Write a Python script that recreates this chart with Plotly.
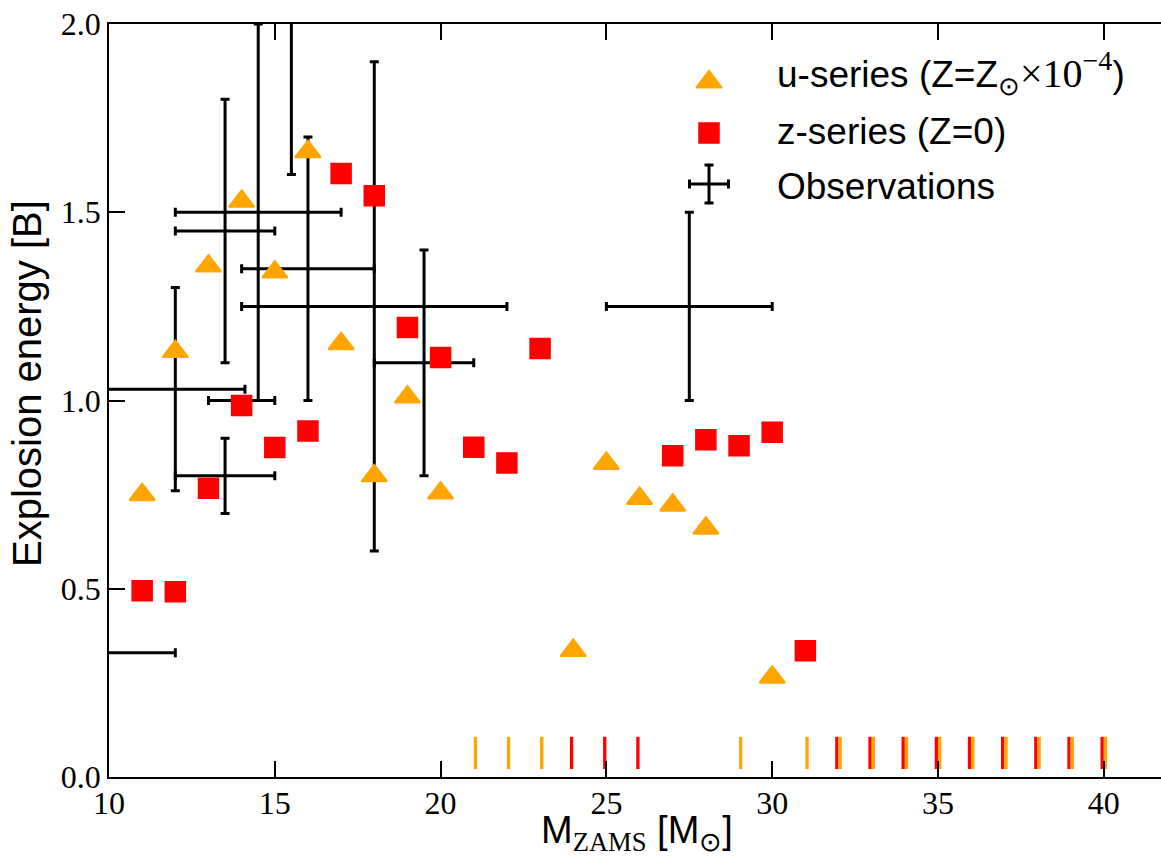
import plotly.graph_objects as go

# ---------------- data ----------------
u_mass = [11, 12, 13, 14, 15, 16, 17, 18, 19, 20, 24, 25, 26, 27, 28, 30]
u_energy = [0.75, 1.13, 1.357, 1.529, 1.341, 1.661, 1.151, 0.80, 1.009, 0.754,
            0.336, 0.833, 0.740, 0.722, 0.661, 0.265]

z_mass = [11, 12, 13, 14, 15, 16, 17, 18, 19, 20, 21, 22, 23, 27, 28, 29, 30, 31]
z_energy = [0.495, 0.492, 0.767, 0.987, 0.875, 0.919, 1.603, 1.544, 1.194, 1.114,
            0.876, 0.834, 1.138, 0.853, 0.896, 0.880, 0.916, 0.335]

# non-exploding models
u_fail_mass = [21, 22, 23, 29, 31, 32, 33, 34, 35, 36, 37, 38, 39, 40]
z_fail_mass = [24, 25, 26, 32, 33, 34, 35, 36, 37, 38, 39, 40]
fail_level = 0.064

# observations
obs_mass = [9, 12, 13.5, 13.5, 14.5, 14, 15.5, 16, 18, 19.5, 27.5]
obs_mass_err = [3, 2.1, 1.5, 1.5, 2.5, 1, 0, 2, 4, 1.5, 2.5]
obs_energy = [0.33, 1.03, 0.80, 1.45, 1.50, 1.00, 2.30, 1.35, 1.25, 1.10, 1.25]
obs_energy_err = [0, 0.27, 0.10, 0.35, 0.50, 0, 0.70, 0.35, 0.65, 0.30, 0.25]

x_ticks = [10, 15, 20, 25, 30, 35, 40]
y_ticks = [0.0, 0.5, 1.0, 1.5, 2.0]
y_tick_text = ["0.0", "0.5", "1.0", "1.5", "2.0"]

ORANGE = "#FFA500"
RED = "#FF0000"
SERIF = "Liberation Serif"
SANS = "Liberation Sans"

fig = go.Figure()

# failed explosions (vertical ticks)
fig.add_trace(go.Scatter(
    x=[m - 0.05 for m in z_fail_mass], y=[fail_level] * len(z_fail_mass),
    mode="markers", showlegend=False, hoverinfo="skip",
    marker=dict(symbol="line-ns", size=23, line=dict(color=RED, width=3.3))))
fig.add_trace(go.Scatter(
    x=[m + 0.05 for m in u_fail_mass], y=[fail_level] * len(u_fail_mass),
    mode="markers", showlegend=False, hoverinfo="skip",
    marker=dict(symbol="line-ns", size=23, line=dict(color=ORANGE, width=3.3))))

# observations
fig.add_trace(go.Scatter(
    x=obs_mass, y=obs_energy, mode="markers", showlegend=False,
    marker=dict(size=2, opacity=0, color="black"),
    error_x=dict(type="data", array=obs_mass_err, color="black", thickness=3, width=4.5),
    error_y=dict(type="data", array=obs_energy_err, color="black", thickness=3, width=4.5)))

# u-series
fig.add_trace(go.Scatter(
    x=u_mass, y=u_energy, mode="markers", showlegend=False,
    marker=dict(symbol="triangle-up", size=22, color=ORANGE,
                line=dict(color=ORANGE, width=2))))

# z-series
fig.add_trace(go.Scatter(
    x=z_mass, y=z_energy, mode="markers", showlegend=False,
    marker=dict(symbol="square", size=20, color=RED,
                line=dict(color=RED, width=1.5))))

# ---- custom legend glyphs on an overlay (unit) axis ----
W, H = 1052.0, 753.0
def px2x(px):
    return (px - 109) / W
def py2y(py):
    return 1 - (py - 24) / H

fig.add_trace(go.Scatter(
    x=[px2x(709)], y=[py2y(82)], xaxis="x2", yaxis="y2", mode="markers",
    showlegend=False, hoverinfo="skip",
    marker=dict(symbol="triangle-up", size=22, color=ORANGE, line=dict(color=ORANGE, width=2))))
fig.add_trace(go.Scatter(
    x=[px2x(709)], y=[py2y(133)], xaxis="x2", yaxis="y2", mode="markers",
    showlegend=False, hoverinfo="skip",
    marker=dict(symbol="square", size=20, color=RED, line=dict(color=RED, width=1.5))))
fig.add_trace(go.Scatter(
    x=[px2x(709)], y=[py2y(184)], xaxis="x2", yaxis="y2", mode="markers",
    showlegend=False, hoverinfo="skip",
    marker=dict(size=2, opacity=0),
    error_x=dict(type="constant", value=19.5 / W, color="black", thickness=3, width=4.5),
    error_y=dict(type="constant", value=19 / H, color="black", thickness=3, width=4.5)))

legend_font = dict(family=SANS, size=37, color="black")
legend_items = [
    ("u-series (Z=Z<sub>⊙</sub><span style='font-family:Liberation Serif;font-size:40px'>×10<sup>−4</sup></span>)", 73),
    ("z-series (Z=0)", 131),
    ("Observations", 186),
]
annotations = []
for txt, py in legend_items:
    annotations.append(dict(text=txt, x=px2x(775), y=py2y(py), xref="paper", yref="paper",
                            xanchor="left", yanchor="middle", showarrow=False, font=legend_font))

annotations.append(dict(text="Explosion energy [B]", x=px2x(27), y=py2y(384),
                        xref="paper", yref="paper", textangle=-90, showarrow=False,
                        xanchor="center", yanchor="middle",
                        font=dict(family=SANS, size=40, color="black")))
annotations.append(dict(text="M<sub><span style='font-family:Liberation Serif'>ZAMS</span></sub> [M<sub>⊙</sub>]",
                        x=px2x(637), y=py2y(833), xref="paper", yref="paper",
                        showarrow=False, xanchor="center", yanchor="middle",
                        font=dict(family=SANS, size=38, color="black")))

fig.update_layout(
    width=1161, height=857,
    margin=dict(l=109, r=0, t=24, b=80),
    paper_bgcolor="white", plot_bgcolor="white",
    showlegend=False,
    annotations=annotations,
    xaxis=dict(range=[10, 10 + W / 33.16], tickvals=x_ticks, ticktext=[str(t) for t in x_ticks],
               ticks="inside", ticklen=16, tickwidth=2, tickcolor="black",
               showline=True, linewidth=1.5, linecolor="black", mirror="ticks",
               showgrid=False, zeroline=False, ticklabelstandoff=-3,
               tickfont=dict(family=SERIF, size=32, color="black")),
    yaxis=dict(range=[0, 2.0], tickvals=y_ticks, ticktext=y_tick_text,
               ticks="inside", ticklen=16, tickwidth=2, tickcolor="black",
               showline=True, linewidth=1.5, linecolor="black",
               showgrid=False, zeroline=False, ticklabelstandoff=0,
               tickfont=dict(family=SERIF, size=32, color="black")),
    yaxis3=dict(range=[0, 2.0], tickvals=y_ticks, overlaying="y", side="right", anchor="x",
                ticks="inside", ticklen=8, tickwidth=2, tickcolor="black",
                showticklabels=False, showline=False, showgrid=False, zeroline=False),
    xaxis2=dict(range=[0, 1], overlaying="x", visible=False, anchor="y2"),
    yaxis2=dict(range=[0, 1], overlaying="y", visible=False, anchor="x2"),
)

fig.write_html("out.html")
